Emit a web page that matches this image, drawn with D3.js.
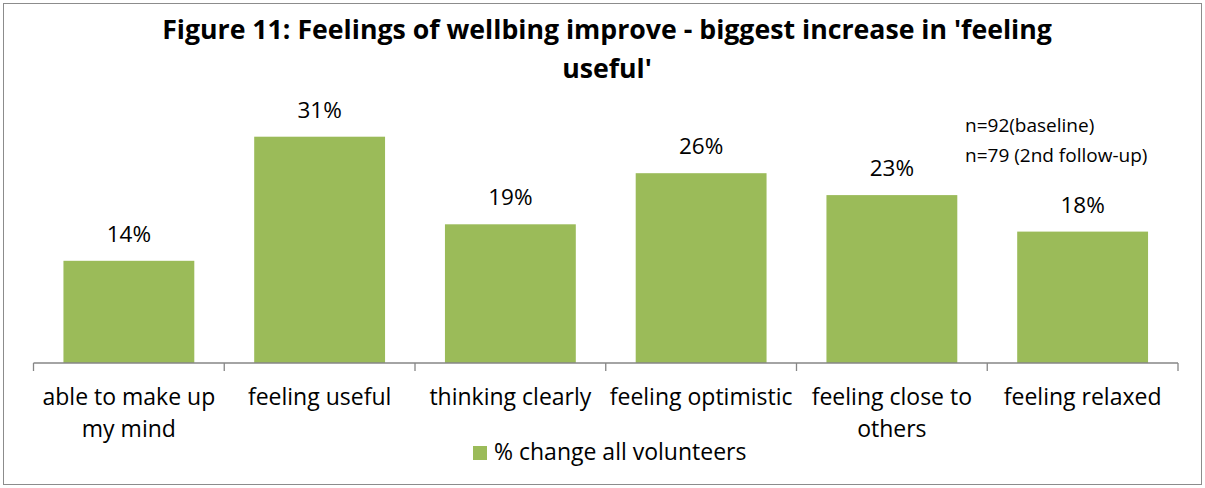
<!DOCTYPE html>
<html>
<head>
<meta charset="utf-8">
<script src="https://cdn.jsdelivr.net/npm/d3@7"></script>
<style>
  html, body { margin: 0; padding: 0; background: #fff; }
  svg { display: block; font-family: "Open Sans", Lato, sans-serif; }
</style>
</head>
<body>
<svg id="chart" width="1205" height="488"></svg>
<script>
// Wellbeing measures and % change for all volunteers
const categories = [
  ["able to make up", "my mind"],
  ["feeling useful"],
  ["thinking clearly"],
  ["feeling optimistic"],
  ["feeling close to", "others"],
  ["feeling relaxed"]
];
const values = [14, 31, 19, 26, 23, 18];
const titleLines = ["Figure 11: Feelings of wellbing improve - biggest increase in 'feeling", "useful'"];
const seriesName = "% change all volunteers";
const notes = ["n=92(baseline)", "n=79 (2nd follow-up)"];

const svg = d3.select("#chart");
const W = 1205, H = 488;
const green = "#9BBB59";

// outer frame
svg.append("rect")
  .attr("x", 3.5).attr("y", 3.5)
  .attr("width", W - 7).attr("height", H - 7)
  .attr("fill", "#fff").attr("stroke", "#8c8c8c").attr("stroke-width", 1);

// title
svg.append("text")
  .attr("text-anchor", "middle")
  .attr("font-weight", "bold")
  .attr("font-size", 26.7)
  .attr("fill", "#000")
  .selectAll("tspan")
  .data(titleLines)
  .join("tspan")
  .attr("x", 607)
  .attr("y", (d, i) => 38.5 + i * 39)
  .text(d => d);

// scales
const x = d3.scaleBand()
  .domain(d3.range(categories.length))
  .range([33.5, 1178])
  .paddingInner(0.314)
  .paddingOuter(0.157);

const y = d3.scaleLinear()
  .domain([0, 35])
  .range([363, 107.5]);

// bars
svg.append("g")
  .selectAll("rect")
  .data(values)
  .join("rect")
  .attr("x", (d, i) => x(i))
  .attr("y", d => y(d))
  .attr("width", x.bandwidth())
  .attr("height", d => y(0) - y(d))
  .attr("fill", green);

// value labels
svg.append("g")
  .selectAll("text")
  .data(values)
  .join("text")
  .attr("x", (d, i) => x(i) + x.bandwidth() / 2)
  .attr("y", d => y(d) - 19)
  .attr("text-anchor", "middle")
  .attr("font-size", 22.5)
  .attr("fill", "#000")
  .text(d => d + "%");

// category axis
const step = x.step();
const axisG = svg.append("g").attr("transform", `translate(0,${y(0)})`);
axisG.append("line")
  .attr("x1", 33.5).attr("x2", 1178)
  .attr("stroke", "#868686").attr("stroke-width", 1.3);
axisG.selectAll("line.tick")
  .data(d3.range(categories.length + 1))
  .join("line")
  .attr("class", "tick")
  .attr("x1", i => 33.5 + i * step)
  .attr("x2", i => 33.5 + i * step)
  .attr("y1", 0).attr("y2", 8)
  .attr("stroke", "#868686").attr("stroke-width", 1.3);

const labelG = svg.append("g");
categories.forEach((lines, i) => {
  labelG.append("text")
    .attr("text-anchor", "middle")
    .attr("font-size", 23)
    .attr("fill", "#000")
    .selectAll("tspan")
    .data(lines)
    .join("tspan")
    .attr("x", x(i) + x.bandwidth() / 2)
    .attr("y", (d, j) => 405 + j * 32)
    .text(d => d);
});

// legend
const legend = svg.append("g");
legend.append("rect")
  .attr("x", 473).attr("y", 446)
  .attr("width", 14).attr("height", 14)
  .attr("fill", green);
legend.append("text")
  .attr("x", 494).attr("y", 459.5)
  .attr("font-size", 23)
  .attr("fill", "#000")
  .text(seriesName);

// sample size notes
svg.append("g")
  .selectAll("text")
  .data(notes)
  .join("text")
  .attr("x", 965)
  .attr("y", (d, i) => 132 + i * 30)
  .attr("font-size", 19)
  .attr("fill", "#000")
  .text(d => d);
</script>
</body>
</html>
